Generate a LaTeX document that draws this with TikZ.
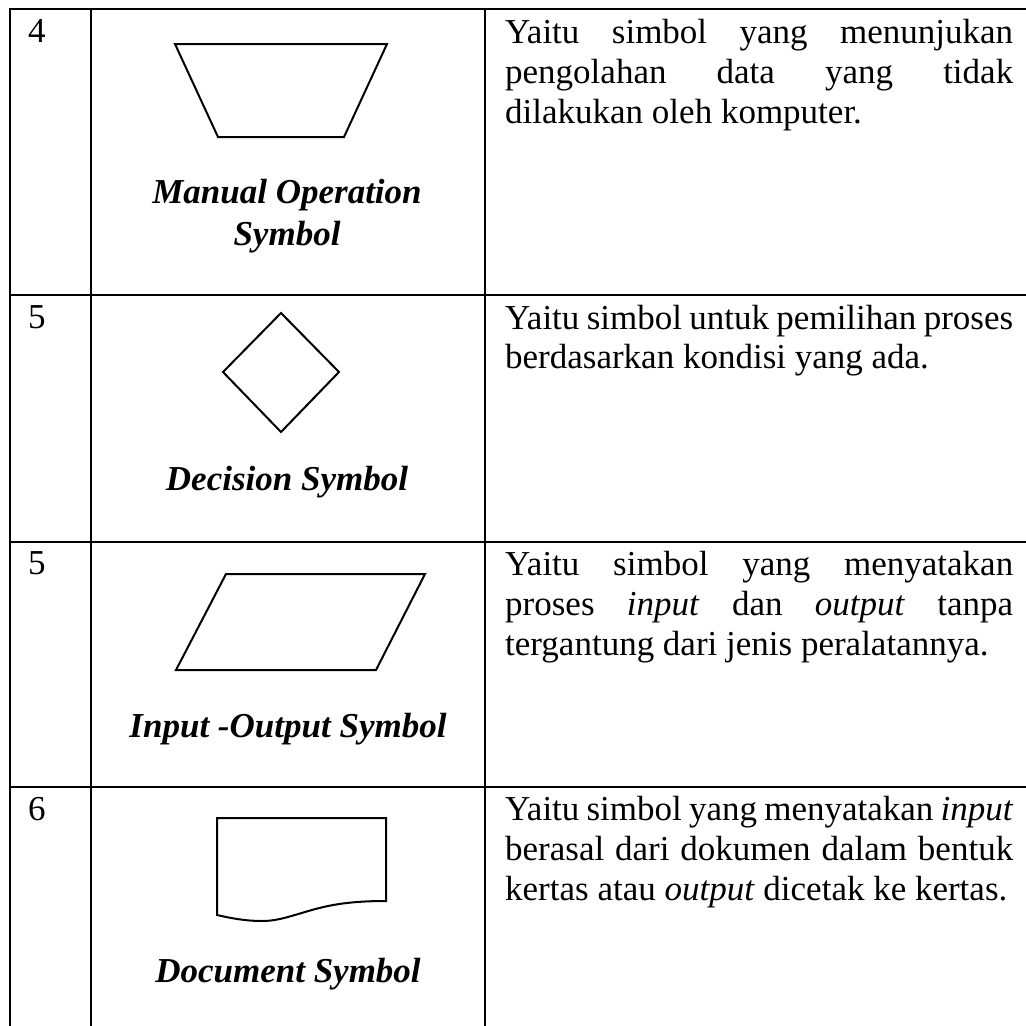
\documentclass[tikz,border=0pt]{standalone}
\usepackage{fontspec}
\setmainfont{Liberation Serif}
\newcommand{\bodysize}{\fontsize{35}{40}\selectfont}
\newcommand{\jline}[1]{\makebox[508pt][s]{#1}}
\begin{document}
\begin{tikzpicture}[x=1pt,y=-1pt,
  rule/.style={line width=2pt},
  shapeline/.style={line width=2pt, line join=miter},
  num/.style={anchor=base west, inner sep=0pt, font=\bodysize},
  desc/.style={anchor=base west, inner sep=0pt, font=\bodysize},
  symname/.style={anchor=base, inner sep=0pt, font=\bodysize\bfseries\itshape}]
\clip (0,0) rectangle (1026,1026);
\fill[white] (0,0) rectangle (1026,1026);

% table rules
\draw[rule] (9,9) -- (1030,9);
\draw[rule] (10,8) -- (10,1030);
\draw[rule] (91,8) -- (91,1030);
\draw[rule] (485,8) -- (485,1030);
\draw[rule] (10,294.5) -- (1030,294.5);
\draw[rule] (10,542) -- (1030,542);
\draw[rule] (10,787) -- (1030,787);

% row numbers
\node[num] (n4) at (28,42) {4};
\node[num] (n5a) at (28,328) {5};
\node[num] (n5b) at (28,574) {5};
\node[num] (n6) at (28,820) {6};

% manual operation symbol
\draw[shapeline] (175,44) -- (387,44) -- (344,137) -- (218,137) -- cycle;
\node[symname] (l1a) at (287,203) {Manual Operation};
\node[symname] (l1b) at (287,245) {Symbol};

% decision symbol
\draw[shapeline] (281,313) -- (339,372) -- (281,432) -- (223,372) -- cycle;
\node[symname] (l2) at (287,490) {Decision Symbol};

% input-output symbol
\draw[shapeline] (226,574) -- (425,574) -- (376,670) -- (176,670) -- cycle;
\node[symname] (l3) at (288,737) {Input -Output Symbol};

% document symbol
\draw[shapeline] (217,915) -- (217,818) -- (386,818) -- (386,901)
  .. controls (345,901) and (325,906) .. (305,912)
  .. controls (285,918) and (275,921) .. (262,921)
  .. controls (245,921) and (230,918) .. (217,915) -- cycle;
\node[symname] (l4) at (288,982) {Document Symbol};

% descriptions
\node[desc] (d1a) at (505,43) {\jline{Yaitu simbol yang menunjukan}};
\node[desc] (d1b) at (505,83) {\jline{pengolahan data yang tidak}};
\node[desc] (d1c) at (505,123) {dilakukan oleh komputer.};

\node[desc] (d2a) at (505,329) {\jline{Yaitu simbol untuk pemilihan proses}};
\node[desc] (d2b) at (505,368) {berdasarkan kondisi yang ada.};

\node[desc] (d3a) at (505,575) {\jline{Yaitu simbol yang menyatakan}};
\node[desc] (d3b) at (505,615) {\jline{proses \textit{input} dan \textit{output} tanpa}};
\node[desc] (d3c) at (505,655) {tergantung dari jenis peralatannya.};

\node[desc] (d4a) at (505,820) {\jline{Yaitu simbol yang menyatakan \textit{input}}};
\node[desc] (d4b) at (505,860) {\jline{berasal dari dokumen dalam bentuk}};
\node[desc] (d4c) at (505,900) {kertas atau \textit{output} dicetak ke kertas.};
\end{tikzpicture}
\end{document}
